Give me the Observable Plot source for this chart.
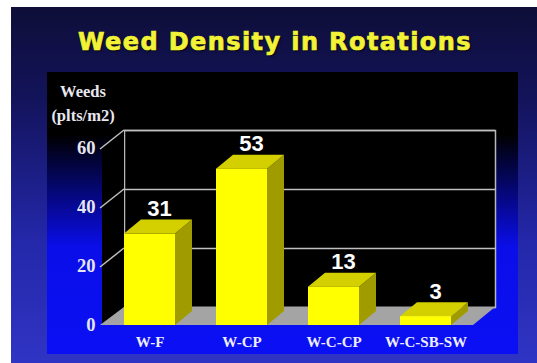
<!DOCTYPE html>
<html><head><meta charset="utf-8">
<script src="https://cdn.jsdelivr.net/npm/d3@7"></script>
<script src="https://cdn.jsdelivr.net/npm/@observablehq/plot@0.6"></script>
<style>
html,body{margin:0;padding:0;background:#fff;}
#wrap{position:relative;width:537px;height:363px;overflow:hidden;background:#fff;}
#bg{position:absolute;left:11px;top:7px;width:526px;height:356px;
  background:linear-gradient(to bottom,#0e0e38 0%,#13135a 25%,#2327a8 65%,#3034c4 100%);}
#panel{position:absolute;left:47px;top:72px;width:471px;height:282px;
  background:linear-gradient(to bottom,#000 0%,#000 22%,#0a0ee8 62%,#0a10f4 100%);}
#title{position:absolute;left:12px;width:526px;top:30px;text-align:center;
  font:bold 24px "DejaVu Sans",Verdana,sans-serif;line-height:24px;color:#f2f236;
  letter-spacing:1.4px;-webkit-text-stroke:0.7px #f2f236;
  text-shadow:1px 1px 2px #000;}
#ylab{position:absolute;left:40px;width:86px;top:80px;text-align:center;
  font:bold 16.5px "Liberation Serif","Times New Roman",serif;line-height:24px;color:#e8e8f0;}
#chart{position:absolute;left:0;top:0;}
</style></head>
<body>
<div id="wrap">
  <div id="bg"></div>
  <div id="panel"></div>
  <div id="title">Weed Density in Rotations</div>
  <div id="ylab">Weeds<br>(plts/m2)</div>
  <div id="chart"></div>
</div>
<script>
const categories = ["W-F", "W-CP", "W-C-CP", "W-C-SB-SW"];
const values = [31, 53, 13, 3];
const yTicks = [0, 20, 40, 60];

const data = categories.map((c, i) => ({cat: c, v: values[i]}));
const DX = 22, DY = -18;   // wall depth
const BDX = 17, BDY = -14; // bar depth

function sideAndFloor(index, scales, values_, dim) {
  const {marginLeft: L, marginRight: R, width: W} = dim;
  const x0 = L, x1 = W - R;
  const y0 = scales.y(0), yTop = scales.y(60);
  const g = d3.create("svg:g");
  g.append("path")
    .attr("d", `M${x0},${y0}L${x0},${yTop}L${x0 + DX},${yTop + DY}L${x0 + DX},${y0 + DY}Z`)
    .attr("fill", "black");
  for (const t of yTicks) {
    if (t === 0) continue;
    const y = scales.y(t);
    g.append("line")
      .attr("x1", x0 - 2).attr("y1", y + 1).attr("x2", x0 + DX).attr("y2", y + DY)
      .attr("stroke", "#c0c0c0").attr("stroke-width", 1.5);
  }
  g.append("path")
    .attr("d", `M${x0 - 2},${y0}L${x1},${y0}L${x1 + DX},${y0 + DY}L${x0 + DX},${y0 + DY}Z`)
    .attr("fill", "#a4a4a4");
  return g.node();
}

function barFaces(index, scales) {
  const g = d3.create("svg:g");
  const bw = scales.x.bandwidth();
  const yb = scales.y(0);
  categories.forEach((c, i) => {
    const xa = scales.x(c), xb = xa + bw, yt = scales.y(values[i]);
    g.append("path")
      .attr("d", `M${xb},${yt}L${xb + BDX},${yt + BDY}L${xb + BDX},${yb + BDY}L${xb},${yb}Z`)
      .attr("fill", "#a09c00");
    g.append("path")
      .attr("d", `M${xa},${yt}L${xb},${yt}L${xb + BDX},${yt + BDY}L${xa + BDX},${yt + BDY}Z`)
      .attr("fill", "#d4d000");
  });
  return g.node();
}

const chart = Plot.plot({
  width: 537, height: 363,
  marginLeft: 102, marginRight: 64, marginTop: 148, marginBottom: 38,
  style: {background: "transparent", overflow: "visible"},
  x: {domain: categories, paddingInner: 0.45, paddingOuter: 0.24},
  y: {domain: [0, 60]},
  marks: [
    Plot.frame({fill: "black", stroke: "#b8b8b8", strokeWidth: 1.5, dx: DX, dy: DY}),
    Plot.gridY(yTicks, {stroke: "#c0c0c0", strokeOpacity: 1, strokeWidth: 1.5, dx: DX, dy: DY}),
    sideAndFloor,
    barFaces,
    Plot.barY(data, {x: "cat", y: "v", fill: "#ffff00"}),
    Plot.text(data, {x: "cat", y: "v", text: d => String(d.v), dx: BDX / 2 + 1, dy: BDY - 4,
      lineAnchor: "bottom", fill: "white", fontSize: 22, fontWeight: "bold",
      fontFamily: "Liberation Sans, Arial, sans-serif"}),
    Plot.axisY(yTicks, {anchor: "left", tickSize: 0, tickPadding: 7, fontSize: 18.5,
      fontWeight: "bold", fontFamily: "Liberation Serif, Times New Roman, serif",
      color: "#e6e6f0", label: null}),
    Plot.axisX({anchor: "bottom", tickSize: 0, tickPadding: 11, fontSize: 15,
      fontWeight: "bold", fontFamily: "Liberation Serif, Times New Roman, serif",
      color: "#eeeeff", label: null})
  ]
});
document.getElementById("chart").appendChild(chart);
</script>
</body></html>
